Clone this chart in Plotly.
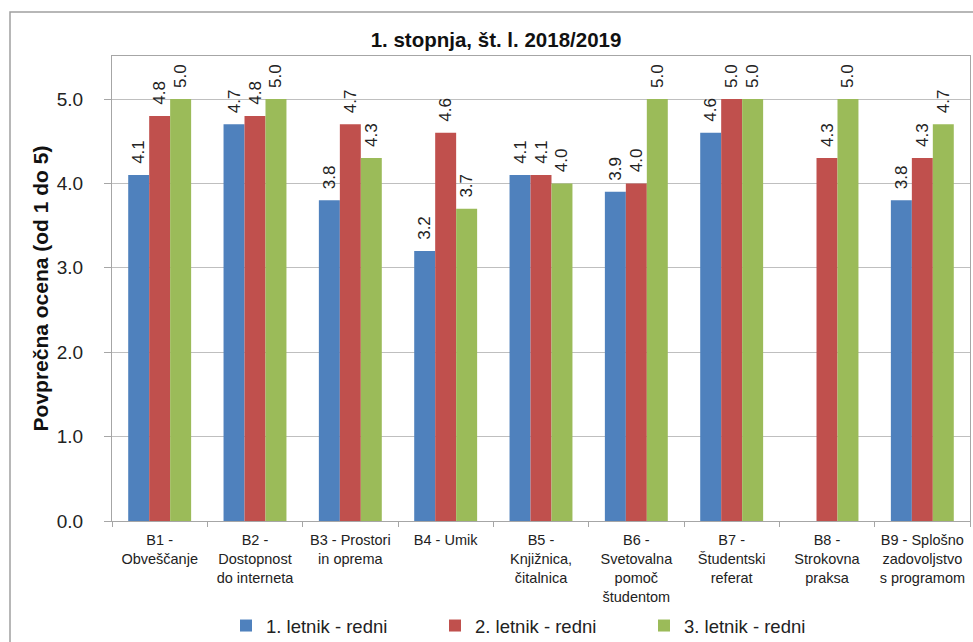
import plotly.graph_objects as go

categories = [
    "B1 -<br>Obveščanje",
    "B2 -<br>Dostopnost<br>do interneta",
    "B3 - Prostori<br>in oprema",
    "B4 - Umik",
    "B5 -<br>Knjižnica,<br>čitalnica",
    "B6 -<br>Svetovalna<br>pomoč<br>študentom",
    "B7 -<br>Študentski<br>referat",
    "B8 -<br>Strokovna<br>praksa",
    "B9 - Splošno<br>zadovoljstvo<br>s programom",
]
letnik1 = [4.1, 4.7, 3.8, 3.2, 4.1, 3.9, 4.6, None, 3.8]
letnik2 = [4.8, 4.8, 4.7, 4.6, 4.1, 4.0, 5.0, 4.3, 4.3]
letnik3 = [5.0, 5.0, 4.3, 3.7, 4.0, 5.0, 5.0, 5.0, 4.7]
series_names = ["1. letnik - redni", "2. letnik - redni", "3. letnik - redni"]
colors = ["#4F81BD", "#C0504D", "#9BBB59"]
y_ticks = [0, 1, 2, 3, 4, 5]
y_tick_text = ["0.0", "1.0", "2.0", "3.0", "4.0", "5.0"]

W, H = 973, 642
L, R, T, B = 112, 3, 56, 121

fig = go.Figure()
for name, vals, col in zip(series_names, [letnik1, letnik2, letnik3], colors):
    fig.add_trace(go.Bar(
        x=categories, y=vals, name=name,
        marker=dict(color=col, line=dict(width=0)),
        texttemplate="\u00a0\u2009%{y:.1f}", textposition="outside", textangle=-90,
        textfont=dict(family="Liberation Sans, Arial, sans-serif", size=17, color="#222"),
        constraintext="none", cliponaxis=False, hoverinfo="x+y+name",
    ))

pw = W - L - R
ph = H - T - B
x0 = (10 - L) / pw
x1 = (W + 5 - L) / pw
y1 = (H - B - 12) / ph
y0 = (H - B - (H + 5)) / ph

fig.update_layout(
    width=W, height=H, autosize=False,
    margin=dict(l=L, r=R, t=T, b=B, pad=0, autoexpand=False),
    paper_bgcolor="white", plot_bgcolor="white",
    barmode="group", bargap=0.34, bargroupgap=0,
    title=dict(text="<b>1. stopnja, št. l. 2018/2019</b>",
               font=dict(family="Liberation Sans Narrow, Arial Narrow, Liberation Sans, sans-serif", size=20.5, color="#111"),
               x=496 / W, xanchor="center", y=1 - 40 / H, yanchor="middle"),
    font=dict(family="Liberation Sans, Arial, sans-serif", color="#222"),
    legend=dict(orientation="h", x=(226 - L) / pw, xanchor="left",
                yref="container", y=1 - 626 / H, yanchor="middle",
                bgcolor="rgba(0,0,0,0)",
                font=dict(size=18.5, color="#222"), traceorder="normal",
                itemwidth=30, entrywidth=164, entrywidthmode="pixels"),
    shapes=[dict(type="rect", xref="paper", yref="paper", x0=x0, x1=x1, y0=y0, y1=y1,
                 line=dict(color="#A0A0A0", width=1.5), fillcolor="rgba(0,0,0,0)", layer="below")],
    showlegend=True,
)
fig.update_xaxes(
    showline=True, linecolor="#A6A6A6", linewidth=1, mirror=True,
    ticks="outside", ticklen=5, tickcolor="#A6A6A6", tickson="boundaries",
    tickfont=dict(size=14.5, color="#222"), tickangle=0, showgrid=False, automargin=False,
    ticklabelstandoff=6,
)
fig.update_yaxes(
    range=[0, 5.51], tickvals=y_ticks, ticktext=y_tick_text,
    showline=True, linecolor="#A6A6A6", linewidth=1, mirror=True,
    ticks="outside", ticklen=7, tickcolor="#A6A6A6",
    tickfont=dict(size=19, color="#222"), automargin=False, ticklabelstandoff=17,
    showgrid=True, gridcolor="#BFBFBF", gridwidth=1, zeroline=False,
    title=dict(text="<b>Povprečna ocena (od 1 do 5)</b>", font=dict(size=21, color="#111"), standoff=2),
)

post = (
    "document.documentElement.style.margin='0';document.documentElement.style.overflow='hidden';"
    "document.body.style.margin='0';document.body.style.padding='0';document.body.style.overflow='hidden';"
    "var gd=document.getElementById('{plot_id}');Plotly.relayout(gd,{width:973,height:642});"
)
fig.write_html("out.html", config={"responsive": False, "displayModeBar": False}, post_script=post)
